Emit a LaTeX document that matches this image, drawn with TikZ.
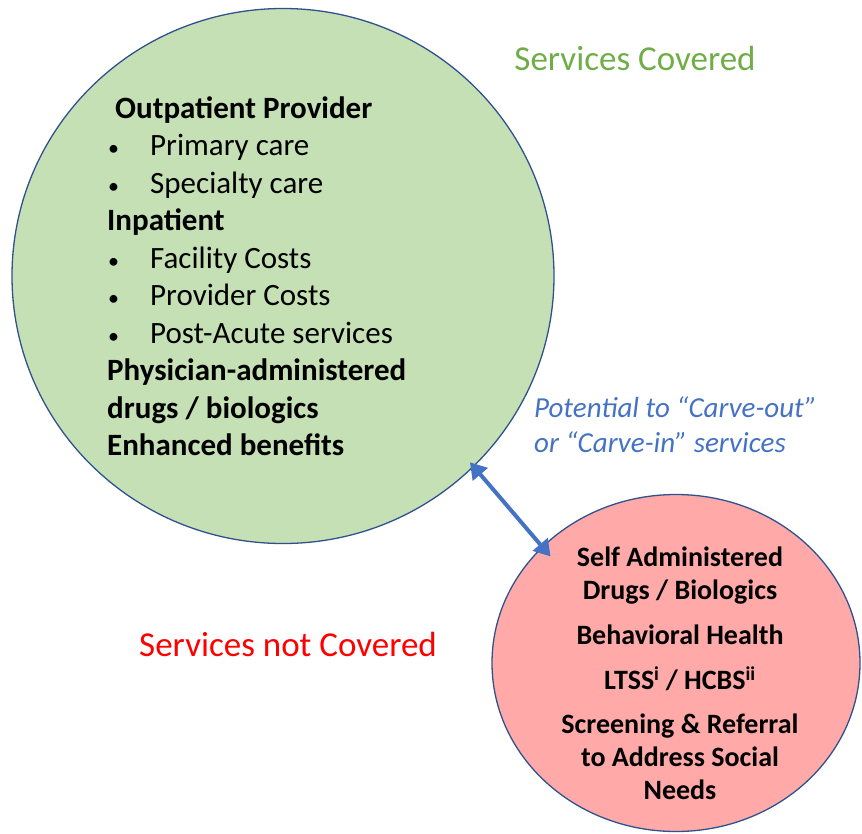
\documentclass[tikz,border=0pt]{standalone}
\usepackage{fontspec}
\setmainfont{Carlito}
\usepackage{tikz}
\usetikzlibrary{shapes.geometric,arrows.meta}
\definecolor{rim}{HTML}{2F528F}
\definecolor{coveredfill}{HTML}{C5E0B4}
\definecolor{notcoveredfill}{HTML}{FFA9A9}
\definecolor{coveredtext}{HTML}{70AD47}
\definecolor{carveblue}{HTML}{4472C4}
\newcommand{\bul}[1]{\makebox[43pt][l]{\hspace*{1pt}{\fontsize{22}{22}\selectfont\textbullet}}#1}

\begin{document}
\begin{tikzpicture}[
  x=1pt, y=-1pt,
  pool/.style={ellipse, draw=rim, line width=1.3pt, inner sep=0pt},
  listtext/.style={inner sep=0pt, align=left, font=\fontsize{31}{37.5}\selectfont},
  heading/.style={inner sep=0pt, font=\fontsize{35}{42}\selectfont},
]
\useasboundingbox (0,0) rectangle (862,833);

% the two pools of services
\node[pool, fill=coveredfill, minimum width=542pt, minimum height=535pt] (covered) at (283,276) {};
\node[pool, fill=notcoveredfill, minimum width=368pt, minimum height=337pt] (notcovered) at (676,663) {};

% headings
\node[heading, text=coveredtext] (coveredtitle) at (635,58) {Services Covered};
\node[heading, text=red] (notcoveredtitle) at (288,644) {Services not Covered};

% what the plan pays for
\node[listtext, anchor=north west] (coveredlist) at (107,96) {%
  \hspace*{8pt}\textbf{Outpatient Provider}\\
  \bul{Primary care}\\
  \bul{Specialty care}\\
  \textbf{Inpatient}\\
  \bul{Facility Costs}\\
  \bul{Provider Costs}\\
  \bul{Post-Acute services}\\
  \textbf{Physician-administered}\\
  \textbf{drugs / biologics}\\
  \textbf{Enhanced benefits}};

% what it leaves out
\node[inner sep=0pt, align=center, font=\bfseries\fontsize{28}{33}\selectfont] (notcoveredlist) at (680,673) {%
  Self Administered\\
  Drugs / Biologics\\[12pt]
  Behavioral Health\\[12pt]
  LTSS\textsuperscript{i} / HCBS\textsuperscript{ii}\\[11pt]
  Screening \& Referral\\
  to Address Social\\
  Needs};

% carve-out / carve-in
\node[inner sep=0pt, anchor=west, align=left, text=carveblue,
      font=\itshape\fontsize{29}{35}\selectfont] (carve) at (534,425) {%
  Potential to “Carve-out”\\
  or “Carve-in” services};
\draw[carveblue, line width=4pt, shorten <=-6pt, shorten >=-13pt,
      {Triangle[length=16pt,width=19pt]}-{Triangle[length=16pt,width=19pt]}]
  (covered.-45) -- (notcovered.139);
\end{tikzpicture}
\end{document}
